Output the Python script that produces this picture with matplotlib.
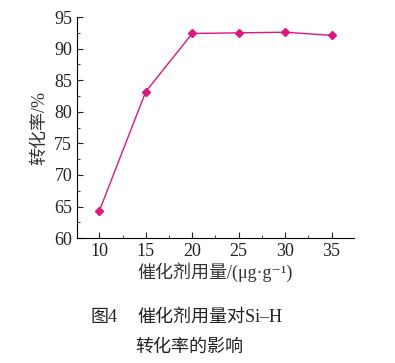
import matplotlib
matplotlib.use("Agg")
import matplotlib.pyplot as plt
from matplotlib.ticker import MultipleLocator

# data
dosage = [10, 15, 20, 25, 30, 35]
conversion = [64.3, 83.2, 92.4, 92.5, 92.6, 92.1]
x_ticks = [10, 15, 20, 25, 30, 35]
y_ticks = [60, 65, 70, 75, 80, 85, 90, 95]

# serif for latin, CJK font picks up the hanzi, DejaVu for the superscript minus
plt.rcParams['font.family'] = ['Liberation Serif', 'Noto Sans CJK SC', 'DejaVu Serif']

fig = plt.figure(figsize=(3.95, 3.63), dpi=100)
ax = fig.add_axes([0.195, 0.344, 0.701, 0.609])

ax.plot(dosage, conversion, color='#E0157F', lw=1.0, marker='D', ms=4)

ax.set_xlim(7.6, 37.4)
ax.set_ylim(60, 95)
ax.set_xticks(x_ticks)
ax.set_yticks(y_ticks)
ax.xaxis.set_minor_locator(MultipleLocator(2.5))
ax.yaxis.set_minor_locator(MultipleLocator(2.5))
ax.tick_params(which='both', direction='in', labelsize=13, colors='#222222')
ax.tick_params(which='major', length=4)
ax.tick_params(which='minor', length=2)
for s in ['top', 'right']:
    ax.spines[s].set_visible(False)

ax.set_ylabel('转化率/%', fontsize=13, color='#333333', labelpad=4)
ax.set_xlabel('催化剂用量/(μg·g⁻¹)', fontsize=13, color='#333333', labelpad=2)

fig.text(0.228, 0.125, '图4', fontsize=13, color='#222222', va='center')
fig.text(0.348, 0.125, '催化剂用量对Si–H', fontsize=13, color='#222222', va='center')
fig.text(0.342, 0.042, '转化率的影响', fontsize=13, color='#222222', va='center')

fig.savefig('out.png', dpi=100)
